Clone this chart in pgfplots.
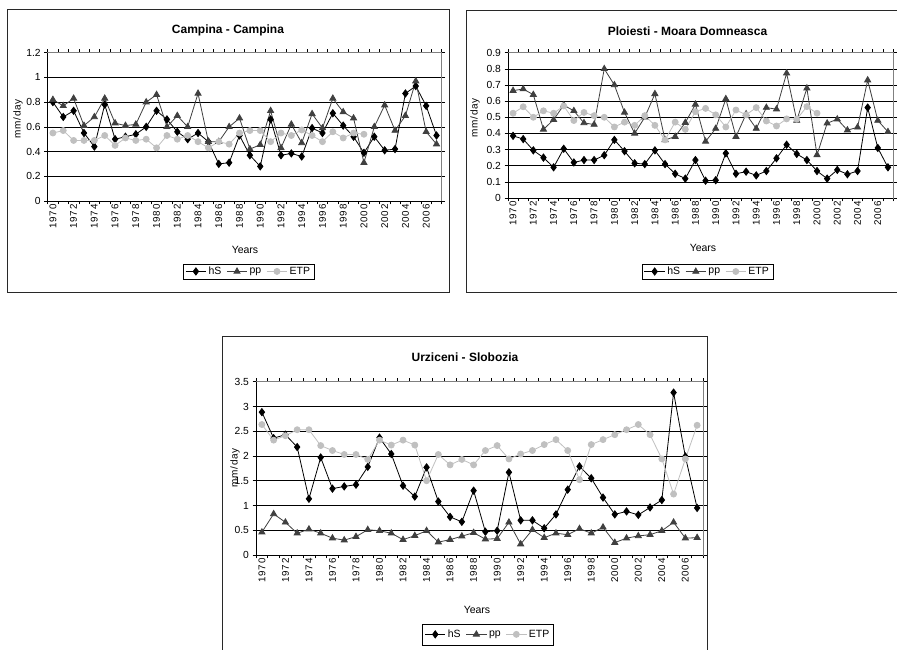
\documentclass[border=0pt]{standalone}
\usepackage{pgfplots}
\usepackage{pgfplotstable}
\pgfplotsset{compat=1.18}
\usepackage{fontspec}
\setmainfont{Liberation Sans}
\newfontfamily\spacedfont[LetterSpace=8]{Liberation Sans}
\definecolor{ppc}{RGB}{64,64,64}
\definecolor{etpc}{RGB}{192,192,192}
\definecolor{framec}{RGB}{40,40,40}

\pgfplotstableread{
year hS pp ETP
1970 0.80 0.82 0.55
1971 0.68 0.77 0.57
1972 0.73 0.83 0.49
1973 0.55 0.61 0.49
1974 0.44 0.68 0.49
1975 0.78 0.83 0.53
1976 0.50 0.63 0.45
1977 0.52 0.61 0.51
1978 0.54 0.62 0.49
1979 0.60 0.80 0.50
1980 0.73 0.86 0.43
1981 0.66 0.60 0.53
1982 0.56 0.69 0.50
1983 0.50 0.60 0.53
1984 0.55 0.87 0.48
1985 0.48 0.48 0.43
1986 0.30 0.48 0.48
1987 0.31 0.60 0.46
1988 0.53 0.67 0.55
1989 0.37 0.42 0.57
1990 0.28 0.455 0.57
1991 0.66 0.73 0.48
1992 0.37 0.43 0.55
1993 0.385 0.62 0.53
1994 0.36 0.47 0.575
1995 0.59 0.705 0.53
1996 0.55 0.59 0.48
1997 0.71 0.83 0.56
1998 0.61 0.72 0.51
1999 0.52 0.67 0.55
2000 0.39 0.31 0.54
2001 0.52 0.60 nan
2002 0.41 0.775 nan
2003 0.42 0.57 nan
2004 0.87 0.69 nan
2005 0.93 0.97 nan
2006 0.77 0.56 nan
2007 0.53 0.46 nan
}\campina

\pgfplotstableread{
year hS pp ETP
1970 0.385 0.665 0.525
1971 0.365 0.675 0.565
1972 0.295 0.64 0.50
1973 0.25 0.425 0.54
1974 0.19 0.485 0.525
1975 0.305 0.575 0.57
1976 0.22 0.54 0.48
1977 0.235 0.465 0.53
1978 0.235 0.455 0.51
1979 0.265 0.80 0.50
1980 0.36 0.70 0.44
1981 0.29 0.53 0.47
1982 0.215 0.40 0.45
1983 0.21 0.50 0.51
1984 0.295 0.645 0.45
1985 0.21 0.36 0.36
1986 0.15 0.38 0.47
1987 0.12 0.467 0.425
1988 0.235 0.58 0.535
1989 0.107 0.35 0.555
1990 0.11 0.43 0.515
1991 0.277 0.614 0.44
1992 0.15 0.38 0.545
1993 0.163 0.52 0.515
1994 0.14 0.43 0.56
1995 0.167 0.56 0.477
1996 0.246 0.55 0.446
1997 0.33 0.773 0.49
1998 0.273 0.48 0.488
1999 0.235 0.68 0.566
2000 0.167 0.267 0.525
2001 0.12 0.463 nan
2002 0.174 0.488 nan
2003 0.147 0.42 nan
2004 0.167 0.438 nan
2005 0.56 0.73 nan
2006 0.31 0.48 nan
2007 0.19 0.41 nan
}\ploiesti

\pgfplotstableread{
year hS pp ETP
1970 2.885 0.46 2.635
1971 2.36 0.83 2.32
1972 2.43 0.66 2.41
1973 2.18 0.44 2.53
1974 1.135 0.52 2.53
1975 1.97 0.44 2.21
1976 1.34 0.34 2.11
1977 1.385 0.30 2.03
1978 1.42 0.37 2.03
1979 1.78 0.51 1.93
1980 2.37 0.49 2.32
1981 2.04 0.44 2.22
1982 1.40 0.31 2.32
1983 1.18 0.39 2.22
1984 1.77 0.49 1.50
1985 1.08 0.26 2.03
1986 0.77 0.31 1.82
1987 0.67 0.38 1.93
1988 1.30 0.45 1.82
1989 0.47 0.32 2.11
1990 0.49 0.33 2.21
1991 1.67 0.66 1.94
1992 0.70 0.22 2.04
1993 0.70 0.51 2.11
1994 0.54 0.35 2.23
1995 0.82 0.44 2.33
1996 1.32 0.41 2.11
1997 1.79 0.53 1.52
1998 1.55 0.44 2.23
1999 1.16 0.56 2.33
2000 0.82 0.25 2.43
2001 0.88 0.34 2.53
2002 0.81 0.385 2.635
2003 0.96 0.41 2.43
2004 1.11 0.49 1.94
2005 3.28 0.66 1.23
2006 1.99 0.34 1.94
2007 0.95 0.35 2.62
}\urziceni

\pgfplotsset{
  meteo/.style={
    scale only axis,
    anchor=south west,
    xmin=1969.5, xmax=2007.5,
    xtick={1969.5,1970.5,...,2007.5},
    xticklabels={},
    extra x ticks={1970,1972,...,2006},
    extra x tick labels={1970,1972,1974,1976,1978,1980,1982,1984,1986,1988,1990,1992,1994,1996,1998,2000,2002,2004,2006},
    extra x tick style={major tick length=0pt},
    tick align=outside,
    major tick length=3.5pt,
    tick style={black, line width=0.6pt},
    ymajorgrids,
    grid style={black, line width=0.6pt},
    axis line style={draw=gray, line width=0.8pt},
    /pgf/number format/assume math mode=true,
    /pgf/number format/1000 sep={},
    xticklabel style={rotate=90, anchor=east, font=\spacedfont\fontsize{9.8}{10}\selectfont},
    yticklabel style={font=\fontsize{10.3}{11}\selectfont},
    legend columns=3,
    legend style={draw=black, line width=0.6pt, font=\fontsize{10.5}{11}\selectfont, anchor=center, inner xsep=2pt, inner ysep=1pt,
      /tikz/every even column/.append style={column sep=3pt}},
    legend image code/.code={\draw[mark repeat=2,mark phase=2] plot coordinates {(0cm,0cm) (0.36cm,0cm) (0.72cm,0cm)};},
    legend cell align=left,
    clip=false,
  },
  hsst/.style={black, line width=0.8pt, mark=diamond*, mark size=3.6pt, mark options={solid, fill=black}},
  ppst/.style={ppc, line width=0.8pt, mark=triangle*, mark size=3.5pt, mark options={solid, fill=ppc}},
  etpst/.style={etpc, line width=0.8pt, mark=*, mark size=3pt, mark options={solid, fill=etpc}},
}

\begin{document}
\begin{tikzpicture}
\path[use as bounding box] (0pt,0pt) rectangle (897pt,650pt);
\fill[white] (0pt,0pt) rectangle (897pt,650pt);
% frames
\draw[framec, line width=1pt] (7pt,640pt) rectangle (449pt,357pt);
\draw[framec, line width=1pt] (466pt,639pt) rectangle (912pt,357pt);
\draw[framec, line width=1pt] (222.7pt,313.3pt) rectangle (707.3pt,-10pt);

% ---------- Campina ----------
\begin{axis}[meteo, at={(47.7pt,449pt)}, width=394pt, height=148.3pt,
  ymin=0, ymax=1.2, ytick={0,0.2,0.4,0.6,0.8,1,1.2},
  legend style={at={(0.51,-0.475)}}]
\addplot[hsst] table[x=year,y=hS] {\campina}; \addlegendentry{hS}
\addplot[ppst] table[x=year,y=pp] {\campina}; \addlegendentry{pp}
\addplot[etpst] table[x=year,y=ETP] {\campina}; \addlegendentry{ETP}
\draw[black, line width=0.8pt] (rel axis cs:0,1) -- (rel axis cs:0,0) -- (rel axis cs:1,0);
\end{axis}
\node[font=\bfseries\fontsize{12}{13}\selectfont] at (228pt,620pt) {Campina - Campina};
\node[rotate=90, font=\spacedfont\fontsize{10}{11}\selectfont] at (18pt,531pt) {mm/day};
\node[font=\fontsize{10.5}{11}\selectfont] at (245pt,400pt) {Years};

% ---------- Ploiesti ----------
\begin{axis}[meteo, at={(508pt,452pt)}, width=385pt, height=145.3pt,
  ymin=0, ymax=0.9, ytick={0,0.1,0.2,0.3,0.4,0.5,0.6,0.7,0.8,0.9},
  legend style={at={(0.518,-0.506)}}]
\addplot[hsst] table[x=year,y=hS] {\ploiesti}; \addlegendentry{hS}
\addplot[ppst] table[x=year,y=pp] {\ploiesti}; \addlegendentry{pp}
\addplot[etpst] table[x=year,y=ETP] {\ploiesti}; \addlegendentry{ETP}
\draw[black, line width=0.8pt] (rel axis cs:0,1) -- (rel axis cs:0,0) -- (rel axis cs:1,0);
\end{axis}
\node[font=\bfseries\fontsize{12}{13}\selectfont] at (687.5pt,619pt) {Ploiesti - Moara Domneasca};
\node[rotate=90, font=\spacedfont\fontsize{10}{11}\selectfont] at (475pt,532pt) {mm/day};
\node[font=\fontsize{10.5}{11}\selectfont] at (703pt,402pt) {Years};

% ---------- Urziceni ----------
\begin{axis}[meteo, at={(256pt,95pt)}, width=447pt, height=173.3pt,
  ymin=0, ymax=3.5, ytick={0,0.5,1,1.5,2,2.5,3,3.5},
  legend style={at={(0.519,-0.458)}, inner ysep=4pt}]
\addplot[hsst] table[x=year,y=hS] {\urziceni}; \addlegendentry{hS}
\addplot[ppst] table[x=year,y=pp] {\urziceni}; \addlegendentry{pp}
\addplot[etpst] table[x=year,y=ETP] {\urziceni}; \addlegendentry{ETP}
\draw[black, line width=0.8pt] (rel axis cs:0,1) -- (rel axis cs:0,0) -- (rel axis cs:1,0);
\end{axis}
\node[font=\bfseries\fontsize{12}{13}\selectfont] at (465pt,293pt) {Urziceni - Slobozia};
\node[rotate=90, font=\spacedfont\fontsize{10}{11}\selectfont] at (235pt,182pt) {mm/day};
\node[font=\fontsize{10.5}{11}\selectfont] at (477pt,40pt) {Years};
\end{tikzpicture}
\end{document}
